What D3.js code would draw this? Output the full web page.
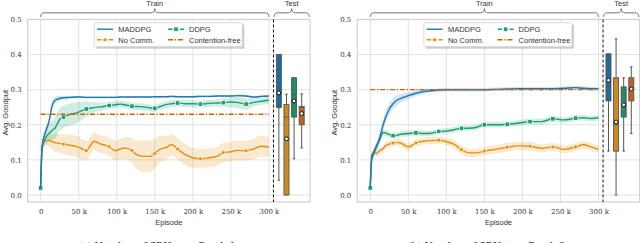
<!DOCTYPE html>
<html><head><meta charset="utf-8">
<script src="https://cdn.jsdelivr.net/npm/d3@7"></script>
<style>body{margin:0;background:#fff}svg{display:block}</style>
</head><body>
<script>
// ---------------- DATA ----------------
const seriesNames = ["MADDPG", "DDPG", "No Comm.", "Contention-free"];
const xTicks = [0, 50, 100, 150, 200, 250, 300];
const xTickLabels = ["0", "50 k", "100 k", "150 k", "200 k", "250 k", "300 k"];
const yTicks = [0.0, 0.1, 0.2, 0.3, 0.4, 0.5];
const markerEpisodes = [0, 30, 60, 90, 120, 150, 180, 210, 240, 270];

// Panel (a)
const episodesA = [0,2,5,8,11,15,19,25,30,38,47,52,60,65,70,78,90,98,105,110,120,126,135,144,150,157,166,172,180,190,200,210,221,232,240,250,258,270,280,290,300];
const maddpgA = [0.02,0.14,0.17,0.19,0.209,0.254,0.27,0.275,0.277,0.278,0.279,0.279,0.278,0.278,0.278,0.278,0.278,0.278,0.279,0.279,0.279,0.279,0.279,0.279,0.28,0.28,0.28,0.281,0.28,0.28,0.28,0.281,0.281,0.282,0.282,0.282,0.283,0.282,0.279,0.281,0.282];
const maddpgSpreadA = [0,0.01,0.012,0.012,0.012,0.012,0.01,0.008,0.006,0.005,0.004,0.003,0.003,0.003,0.003,0.003,0.003,0.003,0.003,0.003,0.003,0.003,0.003,0.003,0.003,0.003,0.003,0.003,0.003,0.003,0.003,0.003,0.003,0.003,0.003,0.003,0.003,0.003,0.003,0.003,0.003];
const ddpgA = [0.02,0.135,0.155,0.168,0.175,0.184,0.191,0.215,0.222,0.229,0.234,0.238,0.245,0.247,0.249,0.251,0.255,0.257,0.259,0.257,0.253,0.252,0.251,0.248,0.247,0.252,0.258,0.26,0.262,0.26,0.26,0.259,0.261,0.262,0.263,0.265,0.264,0.259,0.264,0.267,0.27];
const ddpgSpreadA = [0,0.015,0.02,0.022,0.025,0.028,0.03,0.032,0.032,0.032,0.03,0.028,0.022,0.018,0.015,0.012,0.01,0.01,0.01,0.01,0.01,0.01,0.01,0.01,0.01,0.01,0.01,0.01,0.01,0.01,0.01,0.01,0.01,0.01,0.012,0.015,0.016,0.016,0.012,0.01,0.01];
const nocommA = [0.02,0.139,0.153,0.155,0.156,0.152,0.149,0.147,0.145,0.142,0.138,0.134,0.126,0.139,0.153,0.146,0.138,0.126,0.131,0.134,0.127,0.115,0.11,0.11,0.118,0.131,0.136,0.144,0.131,0.115,0.106,0.103,0.106,0.11,0.121,0.123,0.127,0.126,0.131,0.139,0.136];
const nocommSpreadA = [0,0.01,0.012,0.015,0.018,0.022,0.025,0.027,0.028,0.03,0.03,0.03,0.028,0.026,0.025,0.025,0.026,0.028,0.03,0.032,0.035,0.04,0.045,0.045,0.042,0.038,0.033,0.03,0.03,0.03,0.028,0.027,0.027,0.027,0.028,0.028,0.028,0.028,0.03,0.03,0.028];
const contentionA = 0.23;
// Test boxes (a): [min, q1, median, q3, max, mean]
const boxesA = [
  [0.042, 0.25, 0.25, 0.40, 0.40, 0.291],
  [0.0, 0.0, 0.222, 0.258, 0.287, 0.16],
  [0.103, 0.222, 0.286, 0.334, 0.334, 0.268],
  [0.134, 0.2, 0.25, 0.252, 0.288, 0.232]
];

// Panel (b)
const episodesB = [0,2,5,8,12,17,20,25,30,35,40,50,60,70,80,90,100,110,120,130,140,150,165,180,195,210,225,240,255,270,280,290,300];
const maddpgB = [0.02,0.1,0.12,0.135,0.16,0.2,0.22,0.245,0.26,0.27,0.275,0.283,0.29,0.295,0.297,0.299,0.3,0.3,0.3,0.3,0.3,0.3,0.301,0.302,0.303,0.303,0.303,0.303,0.304,0.306,0.304,0.303,0.303];
const maddpgSpreadB = [0,0.008,0.01,0.012,0.014,0.015,0.016,0.016,0.015,0.014,0.012,0.01,0.008,0.007,0.005,0.005,0.005,0.005,0.005,0.005,0.005,0.005,0.005,0.005,0.005,0.005,0.005,0.005,0.005,0.005,0.005,0.005,0.005];
const ddpgB = [0.02,0.11,0.125,0.14,0.155,0.178,0.177,0.172,0.169,0.17,0.173,0.175,0.177,0.175,0.176,0.181,0.182,0.186,0.19,0.19,0.193,0.2,0.2,0.2015,0.205,0.209,0.209,0.217,0.214,0.219,0.22,0.218,0.22];
const ddpgSpreadB = [0,0.006,0.008,0.008,0.008,0.008,0.008,0.008,0.008,0.008,0.008,0.008,0.008,0.008,0.008,0.008,0.008,0.008,0.008,0.008,0.008,0.008,0.008,0.008,0.008,0.008,0.008,0.008,0.008,0.008,0.008,0.008,0.008];
const nocommB = [0.02,0.115,0.12,0.118,0.126,0.132,0.14,0.145,0.148,0.15,0.148,0.137,0.148,0.153,0.155,0.156,0.152,0.145,0.129,0.12,0.12,0.125,0.13,0.136,0.14,0.139,0.133,0.137,0.13,0.137,0.143,0.137,0.13];
const nocommSpreadB = [0,0.006,0.008,0.008,0.009,0.01,0.01,0.01,0.01,0.01,0.01,0.01,0.01,0.01,0.01,0.01,0.01,0.011,0.012,0.012,0.012,0.012,0.012,0.012,0.012,0.012,0.011,0.011,0.011,0.011,0.011,0.011,0.011];
const contentionB = 0.30;
const boxesB = [
  [0.125, 0.268, 0.307, 0.402, 0.402, 0.327],
  [0.0, 0.125, 0.2, 0.334, 0.445, 0.208],
  [0.125, 0.222, 0.25, 0.308, 0.334, 0.257],
  [0.175, 0.268, 0.3, 0.334, 0.365, 0.302]
];
const captions = ["(a) Number of SRUs per Band: 1", "(b) Number of SRUs per Band: 2"];

// ---------------- STYLE ----------------
const lineColors = ["#1f78b4", "#1a9e74", "#e3900f", "#d55e00"];
const boxColors = ["#1f6b9e", "#cc8a1f", "#1f8c6c", "#c0621f"];
const sans = "'Liberation Sans', Arial, sans-serif";
const serif = "'DejaVu Serif', 'Liberation Serif', serif";

const svg = d3.select("body").append("svg").attr("width", 640).attr("height", 243);

function panel(offset, eps, series, spreads, contention, boxes, caption) {
  const g = svg.append("g").attr("transform", `translate(${offset},0)`);
  const L = 27.7, R = 310, T = 19.5, B = 202;
  const x = d3.scaleLinear().domain([-17, 354]).range([L, R]);
  const y = d3.scaleLinear().domain([-0.02, 0.5]).range([B, T]);

  // grid
  g.selectAll(".hg").data(yTicks).join("line")
    .attr("x1", L).attr("x2", R).attr("y1", d => y(d)).attr("y2", d => y(d))
    .attr("stroke", "#e2e2e2").attr("stroke-width", 1);
  g.selectAll(".vg").data(xTicks).join("line")
    .attr("x1", d => x(d)).attr("x2", d => x(d)).attr("y1", T).attr("y2", B)
    .attr("stroke", "#e2e2e2").attr("stroke-width", 1);
  g.append("rect").attr("x", L).attr("y", T).attr("width", R - L).attr("height", B - T)
    .attr("fill", "none").attr("stroke", "#d0d0d0").attr("stroke-width", 1.2);

  // ticks
  const xAxis = d3.axisBottom(x).tickValues(xTicks).tickFormat((d, i) => xTickLabels[i]).tickSize(0).tickPadding(7);
  const xa = g.append("g").attr("transform", `translate(0,${B})`).call(xAxis);
  const yAxis = d3.axisLeft(y).tickValues(yTicks).tickFormat(d3.format(".1f")).tickSize(0).tickPadding(6);
  const ya = g.append("g").attr("transform", `translate(${L},0)`).call(yAxis);
  [xa, ya].forEach(a => {
    a.select(".domain").remove();
    a.selectAll("text").attr("font-family", serif).attr("font-size", 7).attr("fill", "#333");
  });

  // axis labels
  g.append("text").attr("x", (L + R) / 2).attr("y", 225).attr("text-anchor", "middle")
    .attr("font-family", sans).attr("font-size", 7.5).attr("fill", "#333").text("Episode");
  g.append("text").attr("transform", `translate(7.5,${(T + B) / 2 + 2}) rotate(-90)`).attr("text-anchor", "middle")
    .attr("font-family", sans).attr("font-size", 7.5).attr("fill", "#333").text("Avg. Goodput");

  // bands + lines (draw No Comm., DDPG, MADDPG)
  const order = [2, 1, 0];
  order.forEach(si => {
    const vals = series[si], sp = spreads[si];
    const pts = eps.map((e, i) => ({ e, v: vals[i], s: sp[i] }));
    const area = d3.area().x(d => x(d.e)).y0(d => y(d.v - d.s)).y1(d => y(d.v + d.s)).curve(d3.curveMonotoneX);
    g.append("path").datum(pts).attr("d", area).attr("fill", lineColors[si]).attr("fill-opacity", 0.2);
  });
  order.forEach(si => {
    const vals = series[si];
    const pts = eps.map((e, i) => ({ e, v: vals[i] }));
    const line = d3.line().x(d => x(d.e)).y(d => y(d.v)).curve(d3.curveMonotoneX);
    g.append("path").datum(pts).attr("d", line).attr("fill", "none")
      .attr("stroke", lineColors[si]).attr("stroke-width", 1.4);
    if (si > 0) {
      const mk = pts.filter(d => markerEpisodes.includes(d.e));
      if (si === 1) {
        g.selectAll(null).data(mk).join("rect")
          .attr("x", d => x(d.e) - 2.2).attr("y", d => y(d.v) - 2.2).attr("width", 4.4).attr("height", 4.4)
          .attr("fill", lineColors[si]).attr("stroke", "#fff").attr("stroke-width", 0.7);
      } else {
        g.selectAll(null).data(mk).join("circle")
          .attr("cx", d => x(d.e)).attr("cy", d => y(d.v)).attr("r", 2)
          .attr("fill", lineColors[si]).attr("stroke", "#fff").attr("stroke-width", 0.7);
      }
    }
  });
  // contention-free
  g.append("line").attr("x1", x(0)).attr("x2", x(300)).attr("y1", y(contention)).attr("y2", y(contention))
    .attr("stroke", lineColors[3]).attr("stroke-width", 1.3).attr("stroke-dasharray", "5,1.8,1.3,1.8");

  // separator
  const sepX = x(306);
  g.append("line").attr("x1", sepX).attr("x2", sepX).attr("y1", T).attr("y2", B)
    .attr("stroke", "#111").attr("stroke-width", 1).attr("stroke-dasharray", "3,2");

  // test boxes
  const bx = d3.scaleBand().domain(seriesNames).range([sepX + 1.6, sepX + 32]).paddingInner(0.34).paddingOuter(0.17);
  boxes.forEach((b, i) => {
    const cx = bx(seriesNames[i]) + bx.bandwidth() / 2, w = bx.bandwidth();
    const [mn, q1, md, q3, mx, mean] = b;
    const gray = "#555";
    g.append("line").attr("x1", cx).attr("x2", cx).attr("y1", y(mn)).attr("y2", y(q1)).attr("stroke", gray).attr("stroke-width", 1);
    g.append("line").attr("x1", cx).attr("x2", cx).attr("y1", y(q3)).attr("y2", y(mx)).attr("stroke", gray).attr("stroke-width", 1);
    g.append("line").attr("x1", cx - w / 4).attr("x2", cx + w / 4).attr("y1", y(mn)).attr("y2", y(mn)).attr("stroke", gray).attr("stroke-width", 1);
    g.append("line").attr("x1", cx - w / 4).attr("x2", cx + w / 4).attr("y1", y(mx)).attr("y2", y(mx)).attr("stroke", gray).attr("stroke-width", 1);
    g.append("rect").attr("x", cx - w / 2).attr("y", y(q3)).attr("width", w).attr("height", y(q1) - y(q3))
      .attr("fill", boxColors[i]).attr("stroke", gray).attr("stroke-width", 0.9);
    g.append("line").attr("x1", cx - w / 2).attr("x2", cx + w / 2).attr("y1", y(md)).attr("y2", y(md)).attr("stroke", gray).attr("stroke-width", 0.9);
    g.append("circle").attr("cx", cx).attr("cy", y(mean)).attr("r", 1.9).attr("fill", "#fff").attr("stroke", "#111").attr("stroke-width", 1);
  });

  // braces
  function brace(x1, x2, label) {
    const yb = 17, yh = 12.8, yt = 8.6, r = 3.5, m = (x1 + x2) / 2;
    const p = `M${x1},${yb} Q${x1},${yh} ${x1 + r},${yh} L${m - r},${yh} Q${m},${yh} ${m},${yt} Q${m},${yh} ${m + r},${yh} L${x2 - r},${yh} Q${x2},${yh} ${x2},${yb}`;
    g.append("path").attr("d", p).attr("fill", "none").attr("stroke", "#555").attr("stroke-width", 0.8);
    g.append("text").attr("x", m).attr("y", 5.6).attr("text-anchor", "middle")
      .attr("font-family", sans).attr("font-size", 7.5).attr("fill", "#333").text(label);
  }
  brace(x(0), x(300), "Train");
  brace(x(306.8), x(353), "Test");

  // legend
  const lg = g.append("g");
  lg.append("rect").attr("x", 96.3).attr("y", 24.7).attr("width", 148).attr("height", 24).attr("fill", "#999").attr("fill-opacity", 0.5);
  lg.append("rect").attr("x", 94.3).attr("y", 22.7).attr("width", 148).attr("height", 24).attr("rx", 1.5)
    .attr("fill", "#fff").attr("stroke", "#d0d0d0").attr("stroke-width", 0.8);
  const items = [
    { i: 0, hx: 97, tx: 118.3, y: 29.2 },
    { i: 1, hx: 168, tx: 189, y: 29.2 },
    { i: 2, hx: 97, tx: 118.3, y: 39.8 },
    { i: 3, hx: 168, tx: 189, y: 39.8 }
  ];
  items.forEach(it => {
    const ln = lg.append("line").attr("x1", it.hx).attr("x2", it.hx + 16).attr("y1", it.y).attr("y2", it.y)
      .attr("stroke", lineColors[it.i]).attr("stroke-width", 1.4);
    if (it.i === 1 || it.i === 2) ln.attr("stroke-dasharray", "4.5,1.5");
    if (it.i === 3) ln.attr("stroke-dasharray", "5,1.8,1.3,1.8");
    if (it.i === 1) lg.append("rect").attr("x", it.hx + 8 - 2.2).attr("y", it.y - 2.2).attr("width", 4.4).attr("height", 4.4)
      .attr("fill", lineColors[1]).attr("stroke", "#fff").attr("stroke-width", 0.7);
    if (it.i === 2) lg.append("circle").attr("cx", it.hx + 8).attr("cy", it.y).attr("r", 2)
      .attr("fill", lineColors[2]).attr("stroke", "#fff").attr("stroke-width", 0.7);
    lg.append("text").attr("x", it.tx).attr("y", it.y + 2.7).attr("font-family", sans).attr("font-size", 7.5)
      .attr("fill", "#333").text(seriesNames[it.i]);
  });

  // caption (mostly cut off at bottom)
  g.append("text").attr("x", 157).attr("y", 248.5).attr("text-anchor", "middle")
    .attr("font-family", serif).attr("font-size", 9.5).attr("fill", "#222").text(caption);
}

panel(0, episodesA, [maddpgA, ddpgA, nocommA], [maddpgSpreadA, ddpgSpreadA, nocommSpreadA], contentionA, boxesA, captions[0]);
panel(329.6, episodesB, [maddpgB, ddpgB, nocommB], [maddpgSpreadB, ddpgSpreadB, nocommSpreadB], contentionB, boxesB, captions[1]);
</script>
</body></html>
